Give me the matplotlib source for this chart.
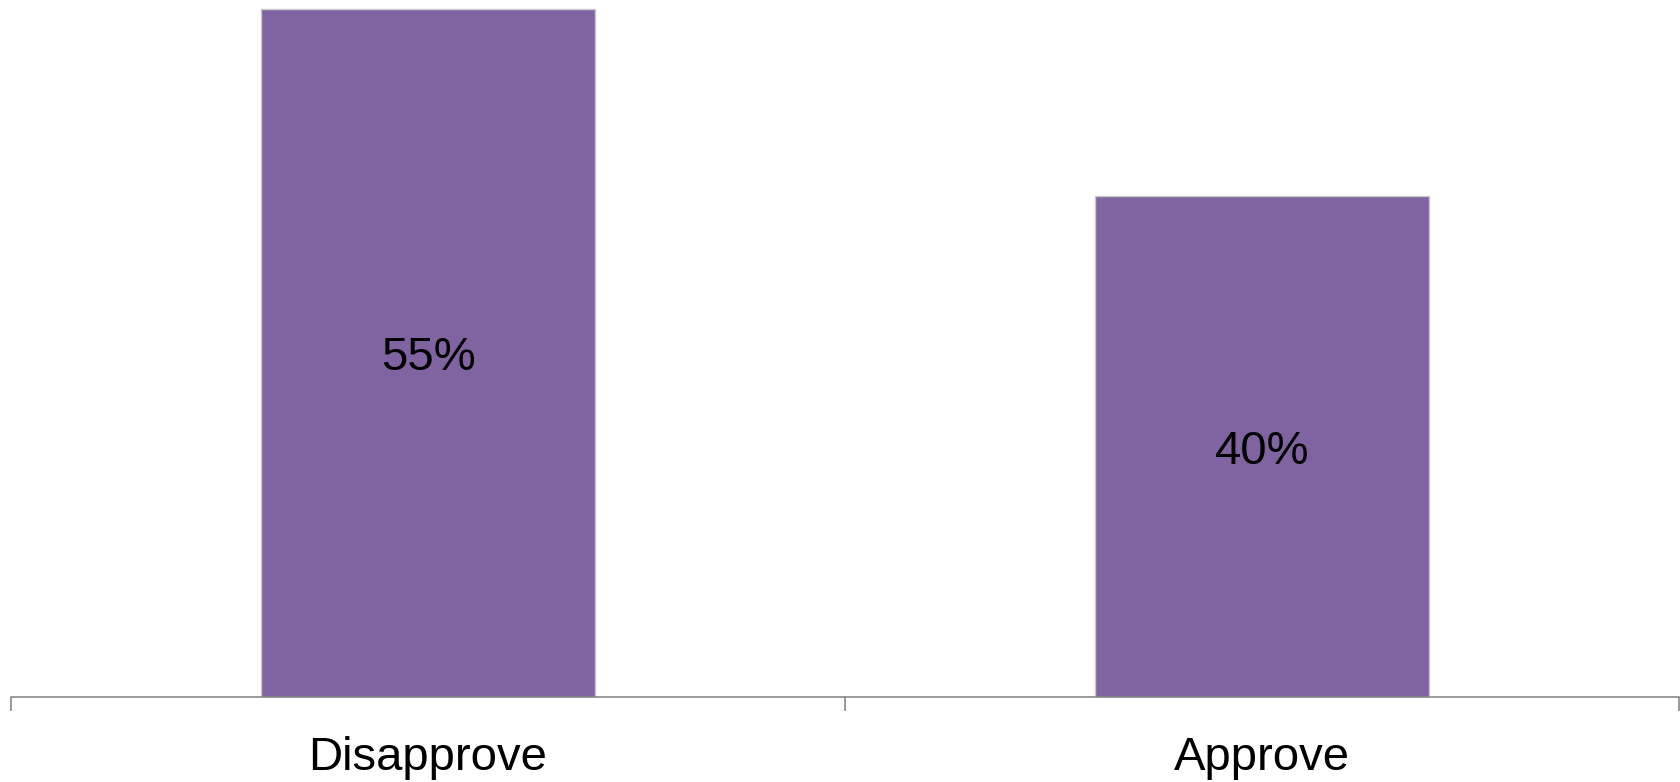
import matplotlib
matplotlib.use("Agg")
import matplotlib.pyplot as plt
import numpy as np
from matplotlib import transforms

categories = ["Disapprove", "Approve"]
values = [55, 40]
labels = ["55%", "40%"]

plt.rcParams['font.family'] = ['Liberation Sans', 'DejaVu Sans']

fig = plt.figure(figsize=(16.81, 7.82), dpi=100)
ax = fig.add_axes([11/1681, (782-697)/782, (1679-11)/1681, 697/782])

x = np.arange(len(categories))
bars = ax.bar(x, values, width=0.4, color="#8064A2", edgecolor="#c9c9c9", linewidth=1.0, zorder=2)
offset = transforms.ScaledTranslation(0, -4/72, fig.dpi_scale_trans)
for b, lab in zip(bars, labels):
    ax.text(b.get_x() + b.get_width()/2, b.get_height()/2, lab,
            ha="center", va="center", fontsize=34, color="black", zorder=3,
            transform=ax.transData + offset)

ax.set_xlim(-0.5, len(categories) - 0.5)
ax.set_ylim(0, 55.7)
ax.set_xticks(x)
ax.set_xticklabels(categories, fontsize=34)
ax.set_xticks(np.arange(len(categories) + 1) - 0.5, minor=True)
ax.tick_params(axis="x", which="major", length=0, pad=28)
ax.tick_params(axis="x", which="minor", length=10, width=1.1, color="#7f7f7f")
ax.set_yticks([])
for s in ["top", "right", "left"]:
    ax.spines[s].set_visible(False)
ax.spines["bottom"].set_color("#7f7f7f")
ax.spines["bottom"].set_linewidth(1.1)
ax.patch.set_alpha(0)

fig.savefig("out.png", dpi=100, facecolor="white")
